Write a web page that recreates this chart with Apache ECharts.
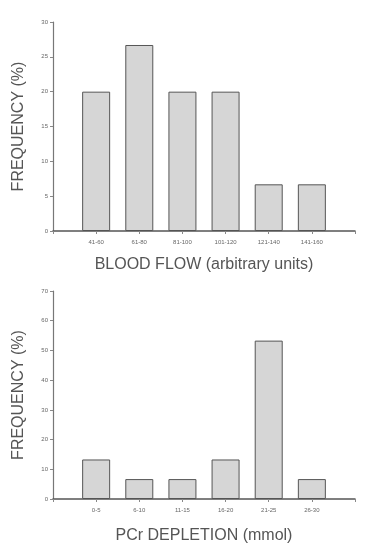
<!DOCTYPE html>
<html><head><meta charset="utf-8">
<script src="https://cdn.jsdelivr.net/npm/echarts@6/dist/echarts.min.js"></script>
<style>html,body{margin:0;padding:0;background:#fff}#c{width:368px;height:545px}</style>
</head><body><div id="c"></div>
<script>
const flowCategories = ['41-60','61-80','81-100','101-120','121-140','141-160'];
const flowFreq = [20, 26.7, 20, 20, 6.7, 6.7];
const pcrCategories = ['0-5','6-10','11-15','16-20','21-25','26-30'];
const pcrFreq = [13.3, 6.7, 6.7, 13.3, 53.3, 6.7];

const pad = a => [''].concat(a, ['']);
const padV = a => ['-'].concat(a, ['-']);
const chart = echarts.init(document.getElementById('c'));
const font = 'Liberation Sans, Arial, sans-serif';
function xAx(idx, cats, name, gap){
  return {type:'category', gridIndex:idx, data:pad(cats), boundaryGap:false,
    axisLine:{lineStyle:{color:'#555', width:1.5}},
    axisTick:{show:true, alignWithLabel:true, length:3, lineStyle:{color:'#888'}},
    axisLabel:{fontSize:6, color:'#666', margin:8, fontFamily:font, interval:0},
    name:name, nameLocation:'middle', nameGap:gap,
    nameTextStyle:{fontSize:16, color:'#555', fontFamily:font}};
}
function yAx(idx, max, interval){
  return {type:'value', gridIndex:idx, min:0, max:max, interval:interval,
    axisLine:{show:true, lineStyle:{color:'#777', width:1.2}},
    axisTick:{show:true, length:3, lineStyle:{color:'#888'}},
    axisLabel:{fontSize:6, color:'#666', margin:5, fontFamily:font},
    splitLine:{show:false},
    name:'FREQUENCY (%)', nameLocation:'middle', nameGap:26, nameRotate:90,
    nameTextStyle:{fontSize:16, color:'#555', fontFamily:font}};
}
const barStyle = {color:'#d6d6d6', borderColor:'#555', borderWidth:1};
chart.setOption({
  animation:false,
  backgroundColor:'#fff',
  grid:[{left:53, right:13, top:22, bottom:314},{left:53, right:13, top:291, bottom:42}],
  xAxis:[xAx(0, flowCategories, 'BLOOD FLOW (arbitrary units)', 26), xAx(1, pcrCategories, 'PCr DEPLETION (mmol)', 29)],
  yAxis:[yAx(0, 30, 5), yAx(1, 70, 10)],
  series:[
    {type:'bar', xAxisIndex:0, yAxisIndex:0, data:padV(flowFreq), barWidth:28, itemStyle:barStyle},
    {type:'bar', xAxisIndex:1, yAxisIndex:1, data:padV(pcrFreq), barWidth:28, itemStyle:barStyle}
  ]
});
</script></body></html>
